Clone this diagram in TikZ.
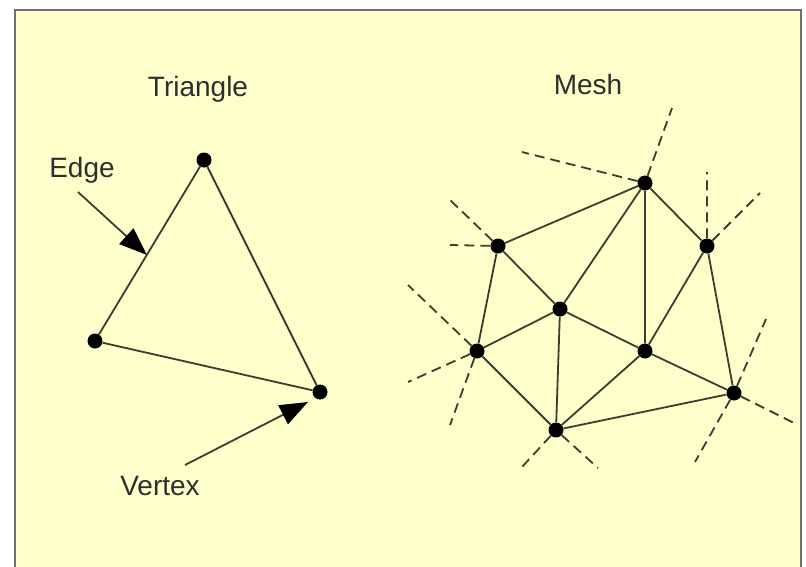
\documentclass[tikz,border=0pt]{standalone}
\usepackage{fontspec}
\setmainfont{Liberation Sans}
\usetikzlibrary{arrows.meta}
\definecolor{bg}{HTML}{FFFFCC}
\definecolor{ln}{HTML}{3C3C30}
\definecolor{fr}{HTML}{707070}
\definecolor{tx}{HTML}{2E2E2E}
\begin{document}
\begin{tikzpicture}[x=1pt,y=-1pt,
  dot/.style={circle,fill=black,minimum size=15pt,inner sep=0pt},
  edgeline/.style={draw=ln,line width=1.8pt},
  dashline/.style={draw=ln,line width=1.8pt,dash pattern=on 10pt off 6pt},
  pointer/.style={draw=ln,line width=1.8pt,-{Triangle[length=28pt,width=21pt,color=black]}},
  lbl/.style={text=tx,font=\fontsize{28}{33}\selectfont,anchor=base,inner sep=0pt}]
\useasboundingbox (0,0) rectangle (806,566);
\fill[white] (0,0) rectangle (806,566);
\begin{scope}
\clip (0,0) rectangle (806,566);
\draw[fill=bg,draw=fr,line width=2.2pt] (15,10) rectangle (801,580);
\end{scope}
% titles
\node[lbl] (ttri) at (198,96) {Triangle};
\node[lbl] (tmesh) at (588,94) {Mesh};
\node[lbl] (tedge) at (82,177) {Edge};
\node[lbl] (tvert) at (160,495) {Vertex};
% triangle
\node[dot] (t1) at (204,160) {};
\node[dot] (t2) at (95,341) {};
\node[dot] (t3) at (320,392) {};
\draw[edgeline] (t1) -- (t2) -- (t3) -- (t1);
\coordinate (es) at (78,192);
\coordinate (et) at (147,255);
\draw[pointer] (es) -- (et);
\coordinate (vs) at (185,465);
\coordinate (vt) at (308,402);
\draw[pointer] (vs) -- (vt);
% mesh
\node[dot] (A) at (645,183) {};
\node[dot] (B) at (498,246) {};
\node[dot] (C) at (707,246) {};
\node[dot] (D) at (560,309) {};
\node[dot] (E) at (477,351) {};
\node[dot] (F) at (645,351) {};
\node[dot] (G) at (734,393) {};
\node[dot] (H) at (556,430) {};
\draw[edgeline] (A)--(B) (A)--(D) (A)--(F) (A)--(C) (B)--(D) (B)--(E)
  (C)--(F) (C)--(G) (D)--(E) (D)--(H) (D)--(F) (E)--(H) (F)--(H) (F)--(G) (H)--(G);
% dashed
\coordinate (a1) at (522,152);
\coordinate (a2) at (672,108);
\coordinate (b1) at (450,200);
\coordinate (b2) at (450,245);
\coordinate (c1) at (707,172);
\coordinate (c2) at (760,193);
\coordinate (e1) at (408,285);
\coordinate (e2) at (408,382);
\coordinate (e3) at (450,425);
\coordinate (h1) at (522,467);
\coordinate (h2) at (598,468);
\coordinate (g1) at (766,319);
\coordinate (g2) at (798,425);
\coordinate (g3) at (695,462);
\draw[dashline] (A)--(a1) (A)--(a2) (B)--(b1) (B)--(b2) (C)--(c1) (C)--(c2)
  (E)--(e1) (E)--(e2) (E)--(e3) (H)--(h1) (H)--(h2) (G)--(g1) (G)--(g2) (G)--(g3);
\end{tikzpicture}
\end{document}
